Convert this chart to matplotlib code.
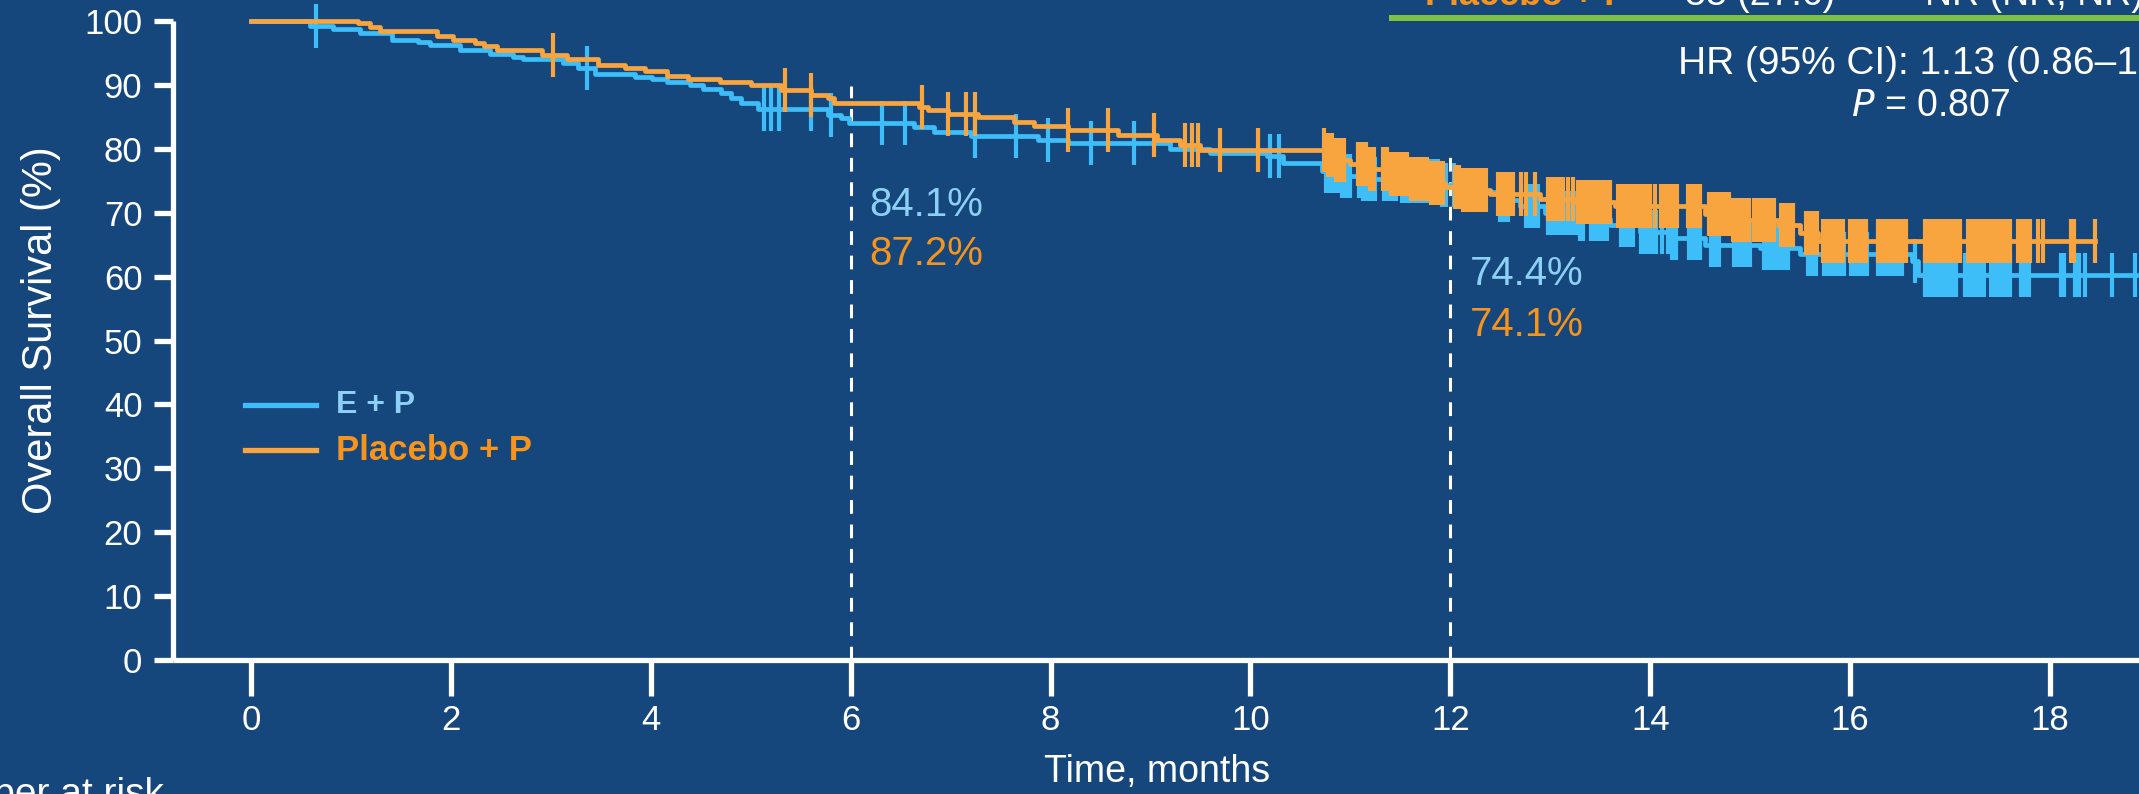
import numpy as np
import matplotlib
matplotlib.use("Agg")
import matplotlib.pyplot as plt
from matplotlib import font_manager

# ---------------- data ----------------
ep_times = [0, 0.59, 0.82, 1.09, 1.41, 1.67, 1.79, 2.09, 2.39, 2.62, 2.72, 3.12, 3.27, 3.44,
            3.84, 4.01, 4.16, 4.39, 4.52, 4.70, 4.80, 4.90, 5.07, 5.77, 5.90, 5.98, 6.63,
            6.83, 7.20, 7.87, 8.17, 9.20, 9.60, 10.17, 10.33, 10.72, 10.90, 11.10, 11.50,
            11.90, 12.30, 12.50, 12.70, 12.95, 13.30, 13.60, 13.90, 14.20, 14.55, 15.10,
            15.50, 16.62, 16.68, 18.86]
ep_surv = [100, 99.2, 98.7, 98.1, 97.1, 96.7, 96.3, 95.5, 94.9, 94.4, 94.1, 93.4, 92.6, 91.7,
           91.3, 90.9, 90.5, 90.0, 89.4, 88.7, 88.0, 87.1, 86.3, 85.3, 84.8, 84.1, 83.4,
           82.7, 82.0, 81.4, 80.9, 80.0, 79.3, 78.8, 77.8, 76.5, 75.8, 75.3, 74.9,
           74.4, 73.2, 72.0, 71.0, 70.0, 69.0, 68.0, 67.0, 66.0, 65.0, 64.4,
           63.6, 62.5, 60.3, 60.3]
ep_censor = [0.65, 3.36, 5.13, 5.20, 5.28, 5.60, 5.80, 6.31, 6.54, 7.24, 7.65, 7.97, 8.40, 8.83,
             10.20, 10.29,
             10.76, 10.80, 10.84, 10.88, 10.92, 10.96, 11.00, 11.09, 11.13, 11.17, 11.21, 11.25,
             11.34, 11.38, 11.42, 11.46, 11.52, 11.56, 11.60, 11.64, 11.68, 11.72, 11.76, 11.80,
             11.84, 11.88, 11.92, 11.96, 12.04, 12.50, 12.54, 12.58, 12.76, 12.80, 12.84, 12.88,
             12.98, 13.02, 13.06, 13.10, 13.14, 13.18, 13.22, 13.26, 13.30, 13.33, 13.41, 13.45,
             13.49, 13.53, 13.57, 13.71, 13.75, 13.79, 13.83, 13.91, 13.95, 13.99, 14.03, 14.06,
             14.12, 14.18, 14.22, 14.26, 14.39, 14.43, 14.47, 14.50, 14.61, 14.65, 14.69, 14.84,
             14.88, 14.92, 14.96, 15.00, 15.14, 15.18, 15.22, 15.26, 15.30, 15.34, 15.38, 15.58,
             15.62, 15.66, 15.74, 15.78, 15.82, 15.86, 15.90, 15.94, 16.01, 16.05, 16.09, 16.13,
             16.17, 16.28, 16.32, 16.36, 16.40, 16.44, 16.48, 16.52, 16.65, 16.75, 16.79, 16.83,
             16.87, 16.91, 16.94, 16.98, 17.02, 17.06, 17.15, 17.19, 17.23, 17.27, 17.31, 17.34,
             17.41, 17.45, 17.49, 17.53, 17.57, 17.60, 17.71, 17.75, 17.79, 18.11, 18.14, 18.25,
             18.29, 18.35, 18.62, 18.85]

pl_times = [0, 1.07, 1.19, 1.29, 1.86, 2.02, 2.24, 2.33, 2.46, 2.91, 3.16, 3.47, 3.74, 3.94,
            4.16, 4.37, 4.69, 5.00, 5.30, 5.60, 5.77, 5.83, 6.68, 6.77, 6.97, 7.27, 7.63,
            7.83, 8.17, 8.67, 9.07, 9.30, 9.50, 10.75, 10.85, 11.00, 11.20, 11.40, 11.60,
            11.80, 11.95, 12.10, 12.40, 12.90, 13.25, 13.65, 14.55, 14.80, 15.28, 15.50,
            15.68, 18.45]
pl_surv = [100, 99.7, 99.1, 98.5, 97.7, 97.1, 96.6, 96.1, 95.5, 94.7, 94.0, 93.1, 92.6, 92.1,
           91.4, 91.0, 90.5, 90.0, 89.2, 88.4, 87.9, 87.2, 86.6, 86.1, 85.5, 85.0, 84.2,
           83.5, 82.9, 82.2, 81.4, 80.6, 79.8, 79.0, 78.3, 77.6, 76.8, 76.0, 75.3,
           74.6, 74.1, 73.5, 72.9, 72.1, 71.6, 71.1, 69.8, 68.8, 68.0, 66.8,
           65.5, 65.5]
pl_censor = [3.02, 5.34, 5.60, 6.71, 6.97, 7.15, 7.24, 8.17, 8.57, 9.04, 9.35, 9.42, 9.48,
             9.70, 10.08,
             10.74, 10.78, 10.82, 10.86, 10.90, 10.94, 11.08, 11.12, 11.16, 11.20, 11.24, 11.33,
             11.37, 11.41, 11.45, 11.49, 11.53, 11.57, 11.61, 11.65, 11.69, 11.73, 11.77, 11.81,
             11.85, 11.89, 11.93, 12.05, 12.09, 12.13, 12.17, 12.21, 12.25, 12.29, 12.33, 12.36,
             12.48, 12.52, 12.56, 12.60, 12.63, 12.71, 12.76, 12.85, 12.98, 13.02, 13.06, 13.10,
             13.13, 13.18, 13.23, 13.28, 13.32, 13.36, 13.40, 13.44, 13.48, 13.52, 13.56, 13.60,
             13.68, 13.72, 13.76, 13.80, 13.84, 13.88, 13.92, 13.96, 14.00, 14.05, 14.11, 14.15,
             14.19, 14.23, 14.27, 14.38, 14.42, 14.46, 14.50, 14.59, 14.63, 14.67, 14.71, 14.75,
             14.79, 14.83, 14.87, 14.91, 14.95, 14.99, 15.04, 15.08, 15.12, 15.16, 15.20, 15.24,
             15.31, 15.35, 15.39, 15.43, 15.56, 15.60, 15.64, 15.67, 15.73, 15.77, 15.81, 15.85,
             15.89, 15.93, 16.00, 16.04, 16.08, 16.12, 16.16, 16.28, 16.32, 16.36, 16.40, 16.44,
             16.48, 16.52, 16.56, 16.75, 16.79, 16.83, 16.87, 16.91, 16.94, 16.98, 17.02, 17.06,
             17.10, 17.18, 17.22, 17.26, 17.30, 17.34, 17.37, 17.41, 17.45, 17.49, 17.53, 17.57,
             17.60, 17.68, 17.72, 17.76, 17.80, 17.88, 17.93, 18.21, 18.24, 18.45]

landmarks = [6, 12]
landmark_tops = [89.8, 79.5]
ep_landmark_labels = ["84.1%", "74.4%"]
pl_landmark_labels = ["87.2%", "74.1%"]

x_ticks = [0, 2, 4, 6, 8, 10, 12, 14, 16, 18]
y_ticks = [0, 10, 20, 30, 40, 50, 60, 70, 80, 90, 100]

# ---------------- style ----------------
BG = "#15467C"
BLUE = "#3DBEF8"
ORANGE = "#F9A53F"
BLUE_TXT = "#8DD0F5"
ORANGE_TXT = "#F7941D"
GREEN = "#7DC242"

avail = {f.name for f in font_manager.fontManager.ttflist}
NARROW = "Liberation Sans Narrow" if "Liberation Sans Narrow" in avail else "Liberation Sans"
REG = "Liberation Sans" if "Liberation Sans" in avail else "DejaVu Sans"

W, H = 2139, 794
fig = plt.figure(figsize=(W / 100, H / 100), dpi=100, facecolor=BG)

def fx(px):
    return px / W

def fy(py):
    return 1 - py / H

ax_left, ax_right = 173, 2139
ax_top, ax_bot = 21, 660
ax = fig.add_axes([fx(ax_left), fy(ax_bot), fx(ax_right - ax_left), (ax_bot - ax_top) / H])
ax.set_facecolor(BG)
x0_px, px_per_month = 251, (2050 - 251) / 18
ax.set_xlim((ax_left - x0_px) / px_per_month, (ax_right - x0_px) / px_per_month)
ax.set_ylim(0, 100)

for s in ["top", "right"]:
    ax.spines[s].set_visible(False)
for s in ["left", "bottom"]:
    ax.spines[s].set_color("white")
    ax.spines[s].set_linewidth(3.8)
    ax.spines[s].set_capstyle("butt")

ax.set_xticks(x_ticks)
ax.set_yticks(y_ticks)
ax.set_xticklabels([str(v) for v in x_ticks], fontfamily=NARROW, fontsize=25, color="white")
ax.set_yticklabels([str(v) for v in y_ticks], fontfamily=REG, fontsize=25, color="white")
ax.tick_params(axis="y", direction="out", length=14, width=3.8, color="white", pad=8)
ax.tick_params(axis="x", direction="out", length=26, width=3.8, color="white", pad=6)


def step_value(times, surv, t):
    idx = np.searchsorted(np.asarray(times), t, side="right") - 1
    return np.asarray(surv)[idx]


# landmark dashed lines
for xv, top in zip(landmarks, landmark_tops):
    ax.plot([xv, xv], [0, top], color="white", lw=2.2, linestyle=(0, (4.5, 3.5)), zorder=2)

# curves
ax.step(ep_times, ep_surv, where="post", color=BLUE, lw=3.4, zorder=3, clip_on=False)
ax.plot(ep_censor, step_value(ep_times, ep_surv, ep_censor), linestyle="none", marker="|",
        markersize=32, markeredgewidth=3.0, color=BLUE, zorder=3, clip_on=False)
ax.step(pl_times, pl_surv, where="post", color=ORANGE, lw=3.4, zorder=4, clip_on=False)
ax.plot(pl_censor, step_value(pl_times, pl_surv, pl_censor), linestyle="none", marker="|",
        markersize=32, markeredgewidth=3.0, color=ORANGE, zorder=4, clip_on=False)

# landmark labels
lab_pos = [(869, 205, 254), (1470, 274, 325)]
for (px, py_ep, py_pl), lb_ep, lb_pl in zip(lab_pos, ep_landmark_labels, pl_landmark_labels):
    fig.text(fx(px), fy(py_ep), lb_ep, color=BLUE_TXT, fontsize=29,
             fontfamily=NARROW, ha="left", va="center")
    fig.text(fx(px), fy(py_pl), lb_pl, color=ORANGE_TXT, fontsize=29,
             fontfamily=NARROW, ha="left", va="center")

# legend
fig.add_artist(plt.Line2D([fx(245), fx(316)], [fy(405), fy(405)], color=BLUE, lw=3.8))
fig.add_artist(plt.Line2D([fx(245), fx(316)], [fy(450), fy(450)], color=ORANGE, lw=3.8))
fig.text(fx(336), fy(405), "E + P", color=BLUE_TXT, fontsize=23, fontweight="bold",
         fontfamily=REG, ha="left", va="center")
fig.text(fx(336), fy(450), "Placebo + P", color=ORANGE_TXT, fontsize=25, fontweight="bold",
         fontfamily=REG, ha="left", va="center")

# axis labels
fig.text(fx(41), fy(330), "Overall Survival (%)", rotation=90, color="white", fontsize=30,
         fontfamily=REG, ha="center", va="center")
fig.text(fx(1157), fy(772), "Time, months", color="white", fontsize=27,
         fontfamily=NARROW, ha="center", va="center")
fig.text(fx(164), fy(777), "Number at risk", color="white", fontsize=28,
         fontfamily=NARROW, ha="right", va="top")

# HR text
fig.text(fx(1678), fy(64), "HR (95% CI): 1.13 (0.86\u20131.49)", color="white", fontsize=28,
         fontfamily=NARROW, ha="left", va="center")
fig.text(fx(1851), fy(106), "$\\it{P}$ = 0.807", color="white", fontsize=27,
         fontfamily=NARROW, ha="left", va="center")

# top table (cut off)
fig.add_artist(plt.Line2D([fx(1389), fx(2139)], [fy(18), fy(18)], color=GREEN, lw=4.3,
                          solid_capstyle="butt"))
fig.text(fx(1425), fy(5), "Placebo + P", color=ORANGE_TXT, fontsize=26, fontweight="bold",
         fontfamily=REG, ha="left", va="baseline")
fig.text(fx(1685), fy(5), "33 (27.6)", color="white", fontsize=27,
         fontfamily=NARROW, ha="left", va="baseline")
fig.text(fx(1925), fy(5), "NR (NR, NR)", color="white", fontsize=27,
         fontfamily=NARROW, ha="left", va="baseline")

fig.savefig("out.png", dpi=100, facecolor=BG)
